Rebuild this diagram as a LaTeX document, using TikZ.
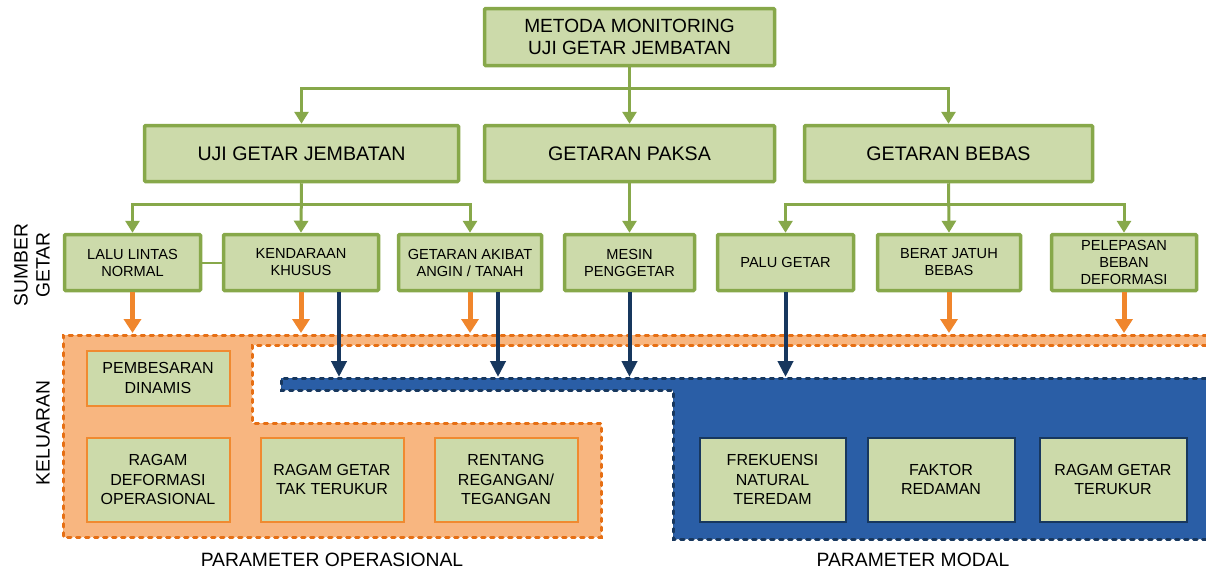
\documentclass[tikz,border=0pt]{standalone}
\usepackage{fontspec}
\setmainfont{Liberation Sans}
\usetikzlibrary{arrows.meta}
\definecolor{gfill}{HTML}{CCDAAA}
\definecolor{gline}{HTML}{87A84A}
\definecolor{ofill}{HTML}{F8B680}
\definecolor{oline}{HTML}{E66F14}
\definecolor{oarrow}{HTML}{F0862C}
\definecolor{obox}{HTML}{F08A30}
\definecolor{bfill}{HTML}{2A5EA6}
\definecolor{bline}{HTML}{17375E}
\newcommand\bx[7]{\node[#6, minimum width={#4-#2-3}, minimum height={#5-#3-3}] (#1) at ({(#2+#4)/2},{(#3+#5)/2}) {#7};}
\begin{document}
\begin{tikzpicture}[x=1pt,y=-1pt,
  base/.style={align=center, inner sep=0pt, text=black},
  gbox/.style={base, draw=gline, fill=gfill, line width=3.5pt, rounded corners=1pt},
  huge/.style={font=\fontsize{19.1}{22}\selectfont},
  big/.style={font=\fontsize{19.6}{22}\selectfont},
  mid/.style={font=\fontsize{14.6}{17}\selectfont},
  inner/.style={base, fill=gfill, line width=2pt, font=\fontsize{16}{19.5}\selectfont},
  obx/.style={inner, draw=obox},
  bbx/.style={inner, draw=bline},
  garrow/.style={draw=gline, line width=3pt, -{Triangle[width=14pt,length=12pt]}},
  gln/.style={draw=gline, line width=3pt},
  oarr/.style={draw=oarrow, line width=5pt, -{Triangle[width=17pt,length=14pt]}},
  narr/.style={draw=bline, line width=4pt, -{Triangle[width=15pt,length=16pt]}},
  odash/.style={draw=oline, line width=3pt, line cap=round, dash pattern=on 3.5pt off 5.5pt},
  bdash/.style={draw=bline, line width=3pt, line cap=round, dash pattern=on 3.5pt off 5.5pt},
  side/.style={base, font=\fontsize{19.3}{22}\selectfont}
]
\useasboundingbox (0,0) rectangle (1206,571);

% output regions
\fill[ofill] (1206,345) -- (252,345) -- (252,423) -- (601,423) -- (601,537) -- (63,537) -- (63,335) -- (1206,335) -- cycle;
\draw[odash] (1206,345) -- (252,345) -- (252,423) -- (601,423) -- (601,537) -- (63,537) -- (63,335) -- (1206,335);
\fill[bfill] (1206,390) -- (673,390) -- (673,539) -- (1206,539) -- (1206,378) -- (281,378) -- (281,390) -- cycle;
\draw[bdash] (1206,539) -- (673,539) -- (673,390) -- (281,390) -- (281,378) -- (1206,378);
\coordinate (otop) at (0,333);
\coordinate (btop) at (0,377);

% level 1
\bx{top}{483}{7}{776}{67}{gbox,huge}{METODA MONITORING\\UJI GETAR JEMBATAN}
% level 2
\bx{uji}{143}{124}{460}{183}{gbox,big}{UJI GETAR JEMBATAN}
\bx{paksa}{483}{124}{776}{183}{gbox,big}{GETARAN PAKSA}
\bx{bebas}{803}{124}{1094}{183}{gbox,big}{GETARAN BEBAS}
% level 3
\bx{lalu}{63}{233}{202}{292}{gbox,mid}{LALU LINTAS\\NORMAL}
\bx{kend}{222}{233}{380}{292}{gbox,mid}{KENDARAAN\\KHUSUS}
\bx{akibat}{397}{233}{543}{292}{gbox,mid}{GETARAN AKIBAT\\ANGIN / TANAH}
\bx{mesin}{563}{233}{696}{292}{gbox,mid}{MESIN\\PENGGETAR}
\bx{palu}{716}{233}{855}{292}{gbox,mid}{PALU GETAR}
\bx{berat}{876}{233}{1022}{292}{gbox,mid}{BERAT JATUH\\BEBAS}
\bx{lepas}{1050}{233}{1198}{292}{gbox,mid}{PELEPASAN\\BEBAN\\DEFORMASI}

% output boxes
\bx{besar}{85}{349}{231}{407}{obx}{PEMBESARAN\\DINAMIS}
\bx{deform}{85}{436}{231}{523}{obx}{RAGAM\\DEFORMASI\\OPERASIONAL}
\bx{takukur}{259}{436}{405}{523}{obx}{RAGAM GETAR\\TAK TERUKUR}
\bx{rentang}{433}{436}{579}{523}{obx}{RENTANG\\REGANGAN/\\TEGANGAN}
\bx{frek}{698}{436}{847}{523}{bbx}{FREKUENSI\\NATURAL\\TEREDAM}
\bx{faktor}{866}{436}{1016}{523}{bbx}{FAKTOR\\REDAMAN}
\bx{terukur}{1038}{436}{1188}{523}{bbx}{RAGAM GETAR\\TERUKUR}

% side labels
\node[side, rotate=90] (sumber) at (32,265) {SUMBER\\GETAR};
\node[side, rotate=90] (keluaran) at (43,433) {KELUARAN};
\node[side] (pop) at (332,560) {PARAMETER OPERASIONAL};
\node[side] (pmod) at (913,560) {PARAMETER MODAL};

% green connectors
\coordinate (j1) at (629.5,88);
\draw[gln] (top.south) -- (j1);
\draw[garrow] (j1) -- (paksa.north);
\draw[garrow] (j1) -| (uji.north);
\draw[garrow] (j1) -| (bebas.north);
\coordinate (j2) at (301.5,204);
\draw[garrow] (uji.south) -- (kend.north);
\draw[garrow] (j2) -| (lalu.north);
\draw[garrow] (j2) -| (akibat.north);
\draw[garrow] (paksa.south) -- (mesin.north);
\coordinate (j3) at (948.5,204);
\draw[garrow] (bebas.south) -- (berat.north);
\draw[garrow] (j3) -| (palu.north);
\draw[garrow] (j3) -| (lepas.north);
\draw[draw=gline, line width=2pt] (lalu.east) -- (kend.west);

% orange arrows
\draw[oarr] (lalu.south) -- (lalu.south |- otop);
\draw[oarr] (kend.south) -- (kend.south |- otop);
\draw[oarr] (akibat.south) -- (akibat.south |- otop);
\draw[oarr] (berat.south) -- (berat.south |- otop);
\draw[oarr] (lepas.south) -- (lepas.south |- otop);

% navy arrows
\draw[narr] ([xshift=38pt]kend.south) -- ([xshift=38pt]kend.south |- btop);
\draw[narr] ([xshift=28pt]akibat.south) -- ([xshift=28pt]akibat.south |- btop);
\draw[narr] (mesin.south) -- (mesin.south |- btop);
\draw[narr] (palu.south) -- (palu.south |- btop);
\end{tikzpicture}
\end{document}
